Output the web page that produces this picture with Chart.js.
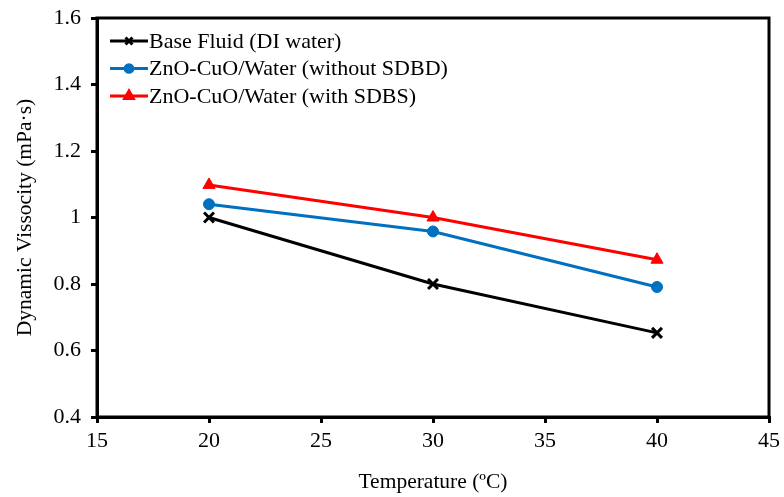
<!DOCTYPE html>
<html><head><meta charset="utf-8">
<script src="https://cdn.jsdelivr.net/npm/chart.js@4"></script>
<style>html,body{margin:0;padding:0;background:#fff}#wrap{width:784px;height:497px}</style>
</head><body><div id="wrap"><canvas id="c" width="784" height="497"></canvas></div>
<script>
const temperatures = [20, 30, 40];
const baseFluid = [1.0, 0.80, 0.653];
const withoutSDBD = [1.04, 0.958, 0.791];
const withSDBS = [1.098, 1.0, 0.873];
const seriesNames = ['Base Fluid (DI water)', 'ZnO-CuO/Water (without SDBD)', 'ZnO-CuO/Water (with SDBS)'];
const xTicks = [15, 20, 25, 30, 35, 40, 45];
const yTicks = [0.4, 0.6, 0.8, 1.0, 1.2, 1.4, 1.6];

const pts = arr => temperatures.map((t, i) => ({x: t, y: arr[i]}));
const FONT = "Liberation Serif";
Chart.defaults.font.family = FONT;
Chart.defaults.font.size = 22;
Chart.defaults.color = '#000';

const frame = {
  id: 'frame',
  afterDatasetsDraw(chart) {
    const {ctx, chartArea: a} = chart;
    ctx.save();
    ctx.strokeStyle = '#000'; ctx.lineWidth = 3;
    ctx.strokeRect(a.left, a.top, a.right - a.left, a.bottom - a.top);
    // legend
    const x0 = a.left + 13, y0 = a.top + 23, dy = 27.5;
    ctx.font = "22px " + FONT;
    ctx.textBaseline = 'middle';
    chart.data.datasets.forEach((ds, i) => {
      const y = y0 + i * dy;
      ctx.strokeStyle = ds.borderColor; ctx.lineWidth = 3;
      ctx.beginPath(); ctx.moveTo(x0, y); ctx.lineTo(x0 + 38, y); ctx.stroke();
      ctx.fillStyle = ds.pointBackgroundColor; ctx.strokeStyle = ds.borderColor;
      Chart.helpers.drawPoint(ctx, {pointStyle: ds.pointStyle, radius: ds.pointRadius * 0.7, borderWidth: ds.pointBorderWidth || 1, rotation: 0}, x0 + 19, y);
      ctx.fillStyle = '#000';
      ctx.fillText(ds.label, x0 + 39, y + 1);
    });
    ctx.restore();
  }
};

new Chart(document.getElementById('c'), {
  type: 'scatter',
  data: {
    datasets: [
      {label: seriesNames[0], data: pts(baseFluid), showLine: true, borderColor: '#000000', backgroundColor: '#000000', pointBackgroundColor: '#000000', borderWidth: 3, pointStyle: 'crossRot', pointRadius: 7, pointBorderWidth: 3},
      {label: seriesNames[1], data: pts(withoutSDBD), showLine: true, borderColor: '#0070C0', backgroundColor: '#0070C0', pointBackgroundColor: '#0070C0', borderWidth: 3, pointStyle: 'circle', pointRadius: 5.5, pointBorderWidth: 1},
      {label: seriesNames[2], data: pts(withSDBS), showLine: true, borderColor: '#FF0000', backgroundColor: '#FF0000', pointBackgroundColor: '#FF0000', borderWidth: 3, pointStyle: 'triangle', pointRadius: 7, pointBorderWidth: 1}
    ]
  },
  options: {
    responsive: false, animation: false, devicePixelRatio: 1,
    layout: {padding: {top: 18, right: 15, left: 0, bottom: 0}},
    plugins: {legend: {display: false}, tooltip: {enabled: false}},
    scales: {
      x: {
        type: 'linear', min: 15, max: 45,
        afterBuildTicks: s => { s.ticks = xTicks.map(v => ({value: v})); },
        border: {display: true, color: '#000', width: 3},
        grid: {display: true, drawOnChartArea: false, drawTicks: true, tickLength: 6, color: '#000', lineWidth: 3},
        ticks: {color: '#000', font: {family: FONT, size: 22}, padding: 5, maxRotation: 0},
        title: {display: true, text: 'Temperature (ºC)', color: '#000', font: {family: FONT, size: 21.5}, padding: {top: 12, bottom: 2}},
        afterFit: s => { s.height = 80; s.paddingLeft = 0; s.paddingRight = 0; }
      },
      y: {
        type: 'linear', min: 0.4, max: 1.6,
        afterBuildTicks: s => { s.ticks = yTicks.map(v => ({value: v})); },
        border: {display: true, color: '#000', width: 3},
        grid: {display: true, drawOnChartArea: false, drawTicks: true, tickLength: 6, color: '#000', lineWidth: 3},
        ticks: {color: '#000', font: {family: FONT, size: 22}, padding: 10, callback: v => String(Math.round(v * 10) / 10)},
        title: {display: true, text: 'Dynamic Vissocity (mPa·s)', color: '#000', font: {family: FONT, size: 21.5}, padding: {top: 12, bottom: 8}},
        afterFit: s => { s.width = 97; s.paddingTop = 0; s.paddingBottom = 0; }
      }
    }
  },
  plugins: [frame]
});
</script></body></html>
